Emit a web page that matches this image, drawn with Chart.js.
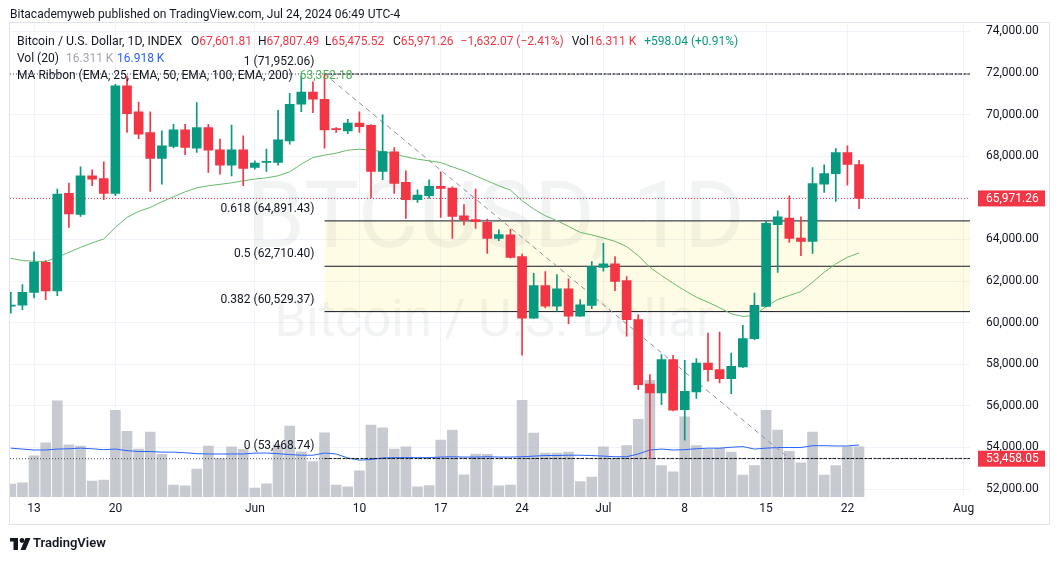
<!DOCTYPE html>
<html>
<head>
<meta charset="utf-8">
<script src="https://cdn.jsdelivr.net/npm/chart.js@4.4.1/dist/chart.umd.min.js"></script>
<style>
  html, body { margin: 0; padding: 0; background: #fff; }
  canvas { display: block; }
</style>
</head>
<body>
<canvas id="chart" width="1060" height="561"></canvas>
<script>
// BTCUSD daily, 2024-05-11 .. 2024-07-23
var startDate = '2024-05-11';
var opens  = [60790, 60840, 61450, 62900, 61520, 66220, 65200, 67060, 66930, 66210, 71380, 70130, 69140, 67890, 68470, 69270, 68390, 69380, 68310, 67570, 68310, 67460, 67700, 67700, 68740, 70500, 71090, 70740, 69300, 69220, 69590, 69490, 67270, 68210, 66740, 65910, 66100, 66550, 66470, 65140, 64950, 64820, 64050, 64220, 63180, 60220, 61780, 60790, 61620, 60310, 60830, 62660, 62830, 62020, 60150, 57040, 56620, 58220, 55820, 56670, 58060, 57740, 57310, 57870, 59230, 60780, 64710, 65030, 64070, 63910, 66660, 67160, 68180, 67601.81];
var highs  = [61460, 61830, 63410, 62980, 66420, 66710, 67490, 67350, 67730, 71460, 71860, 70610, 70130, 69220, 69540, 69540, 70580, 69540, 68820, 69500, 68980, 67780, 68340, 70210, 71030, 71860, 71580, 71952.06, 69380, 69780, 70130, 69520, 69990, 68420, 67300, 66390, 66870, 67250, 66530, 65670, 66420, 64980, 64460, 64500, 63300, 62370, 62460, 62310, 62100, 61110, 62940, 63810, 63180, 62220, 60380, 57500, 58460, 58430, 58190, 58270, 59500, 59540, 58540, 59870, 61420, 64900, 65380, 66100, 65090, 67460, 67590, 68370, 68500, 67807.49];
var lows   = [60450, 60620, 61190, 61100, 61300, 64580, 65110, 66580, 65910, 66100, 69140, 68850, 66310, 66660, 68400, 68070, 68180, 67220, 67140, 67060, 66580, 67380, 67270, 67570, 68580, 70140, 70100, 68390, 69140, 69090, 69140, 66010, 66870, 66210, 65010, 65780, 65990, 65060, 64050, 64700, 64530, 63330, 63940, 63100, 58430, 60200, 60710, 60550, 59950, 60300, 60670, 62470, 61540, 59350, 56780, 53458.05, 56060, 55760, 54350, 56350, 57190, 57100, 56590, 57840, 59180, 60750, 62420, 63860, 63220, 63330, 66260, 65830, 66610, 65475.52];
var closes = [60840, 61460, 62900, 61520, 66180, 65230, 67060, 66900, 66210, 71380, 70050, 69060, 67890, 68500, 69270, 68420, 69380, 68290, 67570, 68310, 67410, 67670, 67750, 68790, 70500, 71090, 70740, 69270, 69280, 69590, 69420, 67270, 68230, 66690, 65910, 66130, 66550, 66450, 65110, 64940, 64850, 64050, 64230, 63140, 60220, 61780, 60790, 61620, 60310, 60860, 62700, 62830, 61980, 60140, 57020, 56620, 58220, 55790, 56700, 58060, 57740, 57310, 57900, 59230, 60830, 64770, 65090, 64050, 63910, 66690, 67170, 68180, 67603.33, 65971.26];
// volume in thousands
var volumes = [4.2, 4.6, 13.4, 17.6, 31.3, 17.0, 16.6, 5.2, 5.5, 28.2, 21.4, 15.6, 21.1, 13.9, 3.9, 3.6, 9.1, 16.6, 12.6, 16.3, 15.5, 2.9, 4.3, 17.0, 23.1, 14.7, 11.5, 20.9, 3.9, 3.3, 8.5, 23.4, 22.5, 15.6, 16.3, 3.3, 3.7, 18.5, 21.8, 7.2, 14.0, 13.9, 3.6, 3.9, 31.5, 20.8, 14.3, 14.3, 14.6, 5.0, 6.5, 16.3, 12.6, 16.7, 25.3, 38.0, 10.2, 8.2, 26.1, 16.7, 15.5, 15.8, 14.6, 7.1, 10.2, 28.2, 21.8, 14.9, 11.1, 21.1, 7.1, 10.2, 16.3, 16.311];
var volMA = [15.9, 15.6, 15.3, 15.3, 15.6, 15.7, 15.9, 15.7, 15.4, 15.6, 15.1, 14.8, 14.8, 14.6, 14.6, 14.4, 14.1, 14.0, 14.0, 14.0, 14.0, 14.3, 14.3, 14.1, 13.8, 13.6, 13.6, 14.3, 14.0, 12.7, 12.0, 12.2, 12.7, 12.8, 12.8, 12.8, 12.8, 13.0, 13.1, 13.0, 13.0, 13.1, 13.0, 13.0, 13.1, 13.3, 13.5, 13.5, 13.6, 13.6, 13.5, 13.3, 13.1, 13.1, 14.0, 15.3, 15.6, 15.3, 15.4, 15.7, 15.9, 15.9, 16.2, 16.4, 15.6, 15.9, 16.1, 16.1, 16.1, 16.7, 16.7, 16.6, 16.6, 16.918];
var ema25 = [63093, 62983, 62949, 62935, 63141, 63381, 63620, 63832, 64024, 64580, 65059, 65347, 65539, 65810, 66050, 66290, 66480, 66580, 66650, 66720, 66820, 66901, 66963, 67059, 67251, 67620, 67937, 68052, 68148, 68290, 68340, 68290, 68225, 68100, 67970, 67860, 67779, 67698, 67491, 67299, 67059, 66820, 66580, 66374, 65861, 65462, 65141, 64901, 64628, 64340, 64215, 64071, 63908, 63654, 63223, 62662, 62263, 61894, 61544, 61223, 60983, 60714, 60426, 60297, 60345, 60777, 61112, 61304, 61496, 61942, 62422, 62825, 63141, 63352.18];

// fib retracement drawn from the Jun 7 high to Jul 17
var fibRatios = ['1', '0.618', '0.5', '0.382', '0'];
var fibPrices = [71952.06, 64891.43, 62710.40, 60529.37, 53468.74];
var fibStart = 27, fibEnd = 67;
var lastPrice = 65971.26;
var lowMark = 53458.05;

var priceTicks = [52000, 54000, 56000, 58000, 60000, 62000, 64000, 66000, 68000, 70000, 72000, 74000];
var timeTicks = [2, 9, 21, 30, 37, 44, 51, 58, 65, 72, 82];
var timeLabels = ['13', '20', 'Jun', '10', '17', '24', 'Jul', '8', '15', '22', 'Aug'];

var dates = [];
(function () {
  var d = new Date(startDate + 'T00:00:00Z');
  for (var i = 0; i < closes.length; i++) {
    dates.push(d.toISOString().slice(0, 10));
    d.setUTCDate(d.getUTCDate() + 1);
  }
})();

var X_MIN = -0.07, X_MAX = 82.55;
var Y_MIN = 51616, Y_MAX = 74397;
var VOL_MAX = 154.2;

var UP = '#089981', DOWN = '#f23645', TEXT = '#131722';
var FONT = 'Roboto';

var candleColors = closes.map(function (c, i) { return c >= opens[i] ? UP : DOWN; });
function xy(arr) { return arr.map(function (v, i) { return { x: i, y: v }; }); }
function hline(price, from, to) { return [{ x: from, y: price }, { x: to, y: price }]; }
function fmt(v) { return v.toLocaleString('en-US', { minimumFractionDigits: 2, maximumFractionDigits: 2 }); }

function lineDs(data, color, extra) {
  var ds = { type: 'line', data: data, borderColor: color, borderWidth: 1, pointRadius: 0, fill: false, tension: 0 };
  for (var k in extra) ds[k] = extra[k];
  return ds;
}

var datasets = [
  // yellow zone between 0.618 and 0.382
  lineDs(hline(fibPrices[1], fibStart, X_MAX), TEXT, { fill: '+1', backgroundColor: 'rgba(255,235,59,0.13)', order: 30 }),
  lineDs(hline(fibPrices[3], fibStart, X_MAX), TEXT, { order: 29 }),
  lineDs(hline(fibPrices[2], fibStart, X_MAX), TEXT, { order: 28 }),
  {
    type: 'bar', data: xy(volumes), yAxisID: 'yv', backgroundColor: 'rgba(178,181,190,0.72)',
    barThickness: 10, grouped: false, borderWidth: 0, order: 25
  },
  lineDs(xy(volMA), '#2962ff', { yAxisID: 'yv', order: 24 }),
  lineDs(xy(ema25), '#66bb6a', { order: 20 }),
  lineDs(hline(fibPrices[0], X_MIN, X_MAX), 'rgba(19,23,34,0.75)', { borderDash: [1, 2], order: 16 }),
  lineDs(hline(lowMark, X_MIN, X_MAX), 'rgba(19,23,34,0.75)', { borderDash: [1, 2], order: 16 }),
  lineDs(hline(fibPrices[0], fibStart, X_MAX), TEXT, { borderDash: [3, 1.5], order: 15 }),
  lineDs(hline(fibPrices[4], fibStart, X_MAX), TEXT, { borderDash: [3, 1.5], order: 15 }),
  lineDs([{ x: fibStart, y: fibPrices[0] }, { x: fibEnd, y: fibPrices[4] }], '#8c8f99', { borderDash: [5, 4], order: 14 }),
  lineDs(hline(lastPrice, X_MIN, X_MAX), DOWN, { borderDash: [1, 2], order: 13 }),
  {
    type: 'bar', data: lows.map(function (l, i) { return { x: i, y: [l, highs[i]] }; }),
    backgroundColor: candleColors, barThickness: 1, grouped: false, borderWidth: 0, order: 2
  },
  {
    type: 'bar', data: opens.map(function (o, i) { return { x: i, y: [o, closes[i]] }; }),
    backgroundColor: candleColors, barThickness: 9, minBarLength: 1, grouped: false, borderWidth: 0, order: 1
  }
];

function drawSegs(ctx, x, y, segs) {
  segs.forEach(function (s) {
    ctx.fillStyle = s[1];
    ctx.fillText(s[0], x, y);
    x += ctx.measureText(s[0]).width + (s[2] || 0);
  });
  return x;
}

var overlay = {
  id: 'overlay',
  beforeDatasetsDraw: function (chart) {
    var ctx = chart.ctx, a = chart.chartArea;
    var cx = (a.left + a.right) / 2 + 6;
    ctx.save();
    ctx.beginPath();
    ctx.rect(a.left, a.top, a.right - a.left, a.bottom - a.top);
    ctx.clip();
    ctx.fillStyle = 'rgba(42,46,57,0.06)';
    ctx.textAlign = 'center';
    ctx.textBaseline = 'alphabetic';
    ctx.font = '93px ' + FONT;
    ctx.fillText('BTCUSD, 1D', cx, 247);
    ctx.font = '51px ' + FONT;
    ctx.fillText('Bitcoin / U.S. Dollar', cx - 2, 336);
    ctx.restore();
  },
  afterDatasetsDraw: function (chart) {
    var ctx = chart.ctx, xs = chart.scales.x, ys = chart.scales.y;
    ctx.save();
    ctx.font = '12px ' + FONT;
    ctx.textAlign = 'right';
    ctx.textBaseline = 'middle';
    ctx.fillStyle = TEXT;
    var lx = xs.getPixelForValue(fibStart) - 10;
    fibPrices.forEach(function (p, i) {
      ctx.fillText(fibRatios[i] + ' (' + fmt(p) + ')', lx, ys.getPixelForValue(p) - 12);
    });
    ctx.restore();
  },
  afterDraw: function (chart) {
    var ctx = chart.ctx, ys = chart.scales.y;
    ctx.save();
    ctx.textBaseline = 'middle';
    ctx.textAlign = 'left';
    ctx.font = '12px ' + FONT;

    // pane border
    ctx.strokeStyle = '#e0e3eb';
    ctx.lineWidth = 1;
    ctx.strokeRect(9.5, 22.5, 1040, 502);

    // price tags on the axis
    [lowMark, lastPrice].forEach(function (p) {
      var y = ys.getPixelForValue(p);
      ctx.fillStyle = DOWN;
      ctx.fillRect(978, y - 8, 67, 16);
      ctx.fillStyle = '#fff';
      ctx.fillText(fmt(p), 986, y + 0.5);
    });

    // header
    ctx.fillStyle = TEXT;
    ctx.fillText('Bitacademyweb published on TradingView.com, Jul 24, 2024 06:49 UTC-4', 10, 15);

    // legend
    ctx.font = '12.3px ' + FONT;
    drawSegs(ctx, 17, 42, [['Bitcoin / U.S. Dollar, 1D, INDEX', TEXT]]);
    ctx.font = '12px ' + FONT;
    drawSegs(ctx, 191, 42, [['O', TEXT], ['67,601.81', DOWN]]);
    drawSegs(ctx, 258, 42, [['H', TEXT], ['67,807.49', DOWN]]);
    drawSegs(ctx, 325, 42, [['L', TEXT], ['65,475.52', DOWN]]);
    var x = drawSegs(ctx, 393, 42, [['C', TEXT], ['65,971.26', DOWN, 7]]);
    drawSegs(ctx, x, 42, [['\u22121,632.07 (\u22122.41%)', DOWN, 8], ['Vol', TEXT], ['16.311 K', DOWN, 8], ['+598.04 (+0.91%)', UP]]);
    drawSegs(ctx, 17, 59, [['Vol (20)', TEXT]]);
    drawSegs(ctx, 66, 59, [['16.311 K', '#a3a6af']]);
    drawSegs(ctx, 117, 59, [['16.918 K', '#2962ff']]);
    drawSegs(ctx, 17, 76, [['MA Ribbon (EMA, 25, EMA, 50, EMA, 100, EMA, 200)', TEXT, 7], ['63,352.18', '#4caf50']]);

    // footer logo
    ctx.fillStyle = TEXT;
    ctx.fillRect(10, 538, 8, 3.5);
    ctx.fillRect(13.5, 538, 4.5, 12);
    ctx.beginPath();
    ctx.arc(22, 540.5, 2.4, 0, Math.PI * 2);
    ctx.fill();
    ctx.beginPath();
    ctx.moveTo(25.5, 538); ctx.lineTo(30.5, 538); ctx.lineTo(25.5, 550); ctx.lineTo(20.5, 550);
    ctx.closePath();
    ctx.fill();
    ctx.font = '600 13px ' + FONT;
    ctx.fillText('TradingView', 33, 544);
    ctx.restore();
  }
};

Chart.defaults.font.family = FONT;

new Chart(document.getElementById('chart'), {
  type: 'bar',
  data: { labels: dates, datasets: datasets },
  options: {
    responsive: false,
    animation: false,
    events: [],
    layout: { padding: { left: 10, top: 22, right: 10, bottom: 36 } },
    plugins: { legend: { display: false }, tooltip: { enabled: false } },
    scales: {
      x: {
        type: 'linear', min: X_MIN, max: X_MAX, offset: false,
        grid: { color: '#f0f3fa', drawTicks: false, offset: false },
        border: { display: false },
        ticks: {
          autoSkip: false, maxRotation: 0, padding: 5, color: TEXT, font: { size: 12 },
          callback: function (v) { var i = timeTicks.indexOf(v); return i < 0 ? '' : timeLabels[i]; }
        },
        afterBuildTicks: function (s) { s.ticks = timeTicks.map(function (v) { return { value: v }; }); },
        afterFit: function (s) { s.height = 28; }
      },
      y: {
        type: 'linear', position: 'right', min: Y_MIN, max: Y_MAX,
        grid: { color: '#f0f3fa', drawTicks: false },
        border: { display: false },
        ticks: { padding: 16, color: TEXT, font: { size: 12 }, callback: function (v) { return fmt(v); } },
        afterBuildTicks: function (s) { s.ticks = priceTicks.map(function (v) { return { value: v }; }); },
        afterFit: function (s) { s.width = 80; }
      },
      yv: { type: 'linear', display: false, min: 0, max: VOL_MAX }
    }
  },
  plugins: [overlay]
});
</script>
</body>
</html>
